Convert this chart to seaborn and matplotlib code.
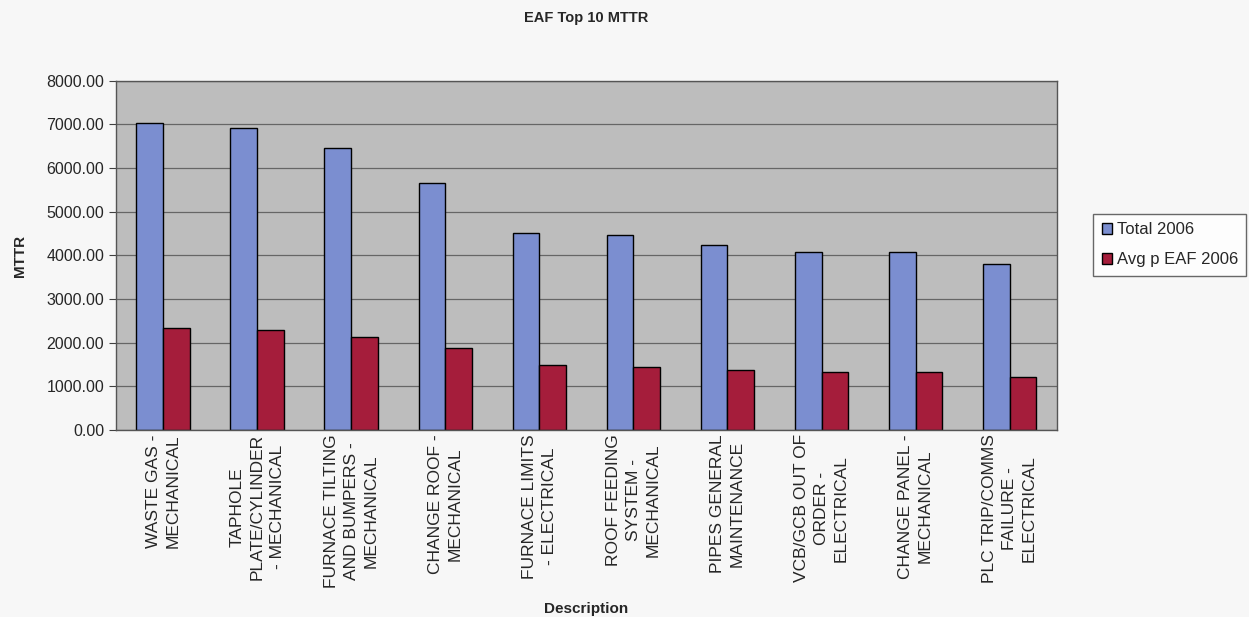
import numpy as np
import pandas as pd
import matplotlib
matplotlib.use("Agg")
import matplotlib.pyplot as plt
import seaborn as sns

categories = [
    "WASTE GAS -\nMECHANICAL",
    "TAPHOLE\nPLATE/CYLINDER\n- MECHANICAL",
    "FURNACE TILTING\nAND BUMPERS -\nMECHANICAL",
    "CHANGE ROOF -\nMECHANICAL",
    "FURNACE LIMITS\n- ELECTRICAL",
    "ROOF FEEDING\nSYSTEM -\nMECHANICAL",
    "PIPES GENERAL\nMAINTENANCE",
    "VCB/GCB OUT OF\nORDER -\nELECTRICAL",
    "CHANGE PANEL -\nMECHANICAL",
    "PLC TRIP/COMMS\nFAILURE -\nELECTRICAL",
]
total_2006 = [7030, 6915, 6470, 5655, 4515, 4475, 4240, 4090, 4090, 3805]
avg_p_eaf_2006 = [2330, 2290, 2140, 1870, 1490, 1450, 1375, 1340, 1340, 1220]
series_names = ["Total 2006", "Avg p EAF 2006"]

df = pd.DataFrame({
    "Description": categories * 2,
    "MTTR": total_2006 + avg_p_eaf_2006,
    "Series": [series_names[0]] * len(categories) + [series_names[1]] * len(categories),
})

sns.set_style("white")
plt.rcParams["font.family"] = ["Liberation Sans", "DejaVu Sans"]

fig = plt.figure(figsize=(12.49, 6.17), dpi=100, facecolor="#f7f7f7")
ax = fig.add_axes([0.093, 0.303, 0.753, 0.566])
ax.set_facecolor("#bdbdbd")

palette = {"Total 2006": "#7b8ed0", "Avg p EAF 2006": "#a51d3b"}
sns.barplot(data=df, x="Description", y="MTTR", hue="Series", palette=palette,
            width=0.57, edgecolor="black", linewidth=1, saturation=1, ax=ax)

ax.set_ylim(0, 8000)
ax.set_xlim(-0.5, len(categories) - 0.5)
ax.set_yticks(np.arange(0, 8001, 1000))
ax.set_yticklabels([f"{v:.2f}" for v in np.arange(0, 8001, 1000)], fontsize=11.5)
ax.yaxis.grid(True, color="#666666", linewidth=0.9)
ax.set_axisbelow(True)

ax.set_xticks(range(len(categories)))
ax.set_xticklabels(categories, rotation=90, fontsize=12.5, ha="center", va="top",
                   multialignment="center", linespacing=1.4)
ax.set_xticks(np.arange(-0.5, len(categories), 1), minor=True)
ax.tick_params(axis="x", which="major", length=0, pad=3)
ax.tick_params(axis="x", which="minor", length=5, direction="out", color="#404040")
ax.tick_params(axis="y", which="major", length=5, direction="out", left=True, color="#404040")

for side in ["left", "bottom", "top", "right"]:
    ax.spines[side].set_color("#555555")
    ax.spines[side].set_linewidth(1)

ax.set_title("EAF Top 10 MTTR", fontsize=10.5, fontweight="bold", pad=42)
ax.set_xlabel("Description", fontsize=11, fontweight="bold", labelpad=10)
ax.set_ylabel("MTTR", fontsize=11, fontweight="bold", labelpad=14)

leg = ax.legend(loc="center left", bbox_to_anchor=(1.03, 0.53), fontsize=12,
                frameon=True, fancybox=False, edgecolor="#444444",
                handlelength=0.6, handleheight=0.6, handletextpad=0.3,
                borderpad=0.5, labelspacing=0.9)
leg.get_frame().set_facecolor("white")

fig.savefig("out.png", dpi=100, facecolor=fig.get_facecolor())
